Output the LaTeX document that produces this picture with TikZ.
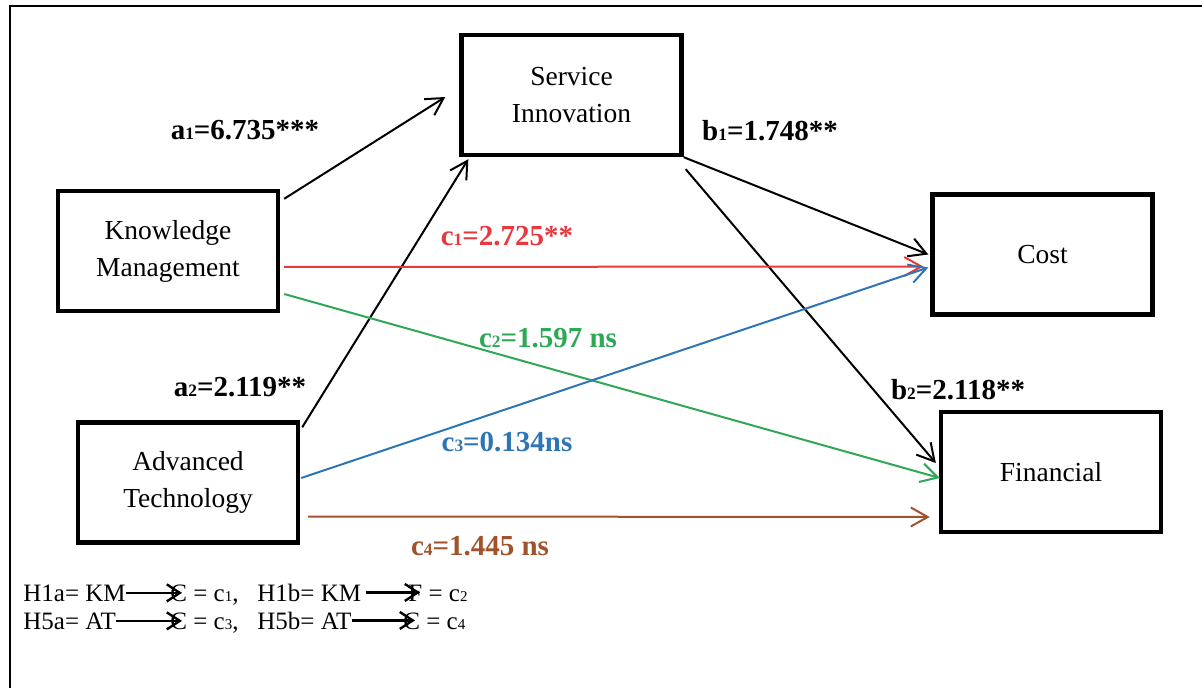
\documentclass[tikz,border=0pt]{standalone}
\usepackage{fontspec}
\setmainfont{Liberation Serif}
\usetikzlibrary{arrows.meta}
\definecolor{pathred}{RGB}{232,56,61}
\definecolor{pathgreen}{RGB}{46,168,87}
\definecolor{pathblue}{RGB}{46,117,182}
\definecolor{pathbrown}{RGB}{160,82,45}
\newcommand{\lsub}[1]{\scalebox{0.6}{#1}}
\tikzset{
  var/.style={draw,line width=2.2pt,minimum width=110pt,minimum height=60pt,align=center,
    font=\fontsize{13.75}{18.5}\selectfont},
  coef/.style={font=\fontsize{14.5}{16}\selectfont\bfseries},
  link/.style={-{Straight Barb[length=8.5pt,width=9.5pt]},line width=1pt},
  legtxt/.style={anchor=base west,inner sep=0pt,font=\fontsize{12.5}{14}\selectfont},
  legarr/.style={-{Straight Barb[length=6.5pt,width=8.5pt]},line width=1.2pt,shorten >=-6pt},
}
\begin{document}
\begin{tikzpicture}[x=0.5pt,y=-0.5pt]
	\useasboundingbox (0,0) rectangle (1202,688);
	\draw[line width=1pt] (10,720) -- (10,6) -- (1230,6);
	% variables
	\node[var] (si) at (571.5,95) {Service\\Innovation};
	\node[var] (km) at (168,251) {Knowledge\\Management};
	\node[var] (at) at (188,482.5) {Advanced\\Technology};
	\node[var] (cost) at (1042.5,254.5) {Cost};
	\node[var] (fin) at (1051,472) {Financial};
	% paths
	\draw[link] ([shift={(2pt,-5pt)}]km.north east) -- ([shift={(-7pt,-1pt)}]si.west);
	\draw[link] ([shift={(1pt,-3.5pt)}]at.north east) -- ([shift={(4.5pt,-1pt)}]si.south west);
	\draw[link] (si.south east) -- ([shift={(-1pt,0pt)}]cost.west);
	\draw[link] ([shift={(1pt,-6pt)}]si.south east) -- ([shift={(-1.5pt,4.5pt)}]fin.west);
	\draw[link,pathred] ([shift={(2pt,-8pt)}]km.east) -- ([shift={(-3.5pt,-6pt)}]cost.west);
	\draw[link,pathgreen] ([shift={(2pt,-21.5pt)}]km.east) -- ([shift={(0.5pt,-3pt)}]fin.west);
	\draw[link,pathblue] ([shift={(0.5pt,2.25pt)}]at.east) -- ([shift={(-1pt,-6.5pt)}]cost.west);
	\draw[link,pathbrown] ([shift={(4pt,-17pt)}]at.east) -- ([shift={(-4.5pt,-22.5pt)}]fin.west);
	% coefficients
	\node[coef] (a1) at (245,130) {a\lsub{1}=6.735***};
	\node[coef] (b1) at (770,131) {b\lsub{1}=1.748**};
	\node[coef,pathred] (c1) at (507,236) {c\lsub{1}=2.725**};
	\node[coef,pathgreen] (c2) at (548,338) {c\lsub{2}=1.597 ns};
	\node[coef] (a2) at (240,387) {a\lsub{2}=2.119**};
	\node[coef] (b2) at (958,390) {b\lsub{2}=2.118**};
	\node[coef,pathblue] (c3) at (507,442) {c\lsub{3}=0.134ns};
	\node[coef,pathbrown] (c4) at (480,546) {c\lsub{4}=1.445 ns};
	% hypotheses
	\node[legtxt] (h1a) at (23,601) {H1a= KM};
	\node[legtxt] (h1ac) at (170,601) {C = c\lsub{1},};
	\node[legtxt] (h1b) at (257,601) {H1b= KM};
	\node[legtxt] (h1bf) at (408,601) {F = c\lsub{2}};
	\node[legtxt] (h5a) at (23,629) {H5a= AT};
	\node[legtxt] (h5ac) at (170,629) {C = c\lsub{3},};
	\node[legtxt] (h5b) at (257,629) {H5b= AT};
	\node[legtxt] (h5bc) at (403,629) {C = c\lsub{4}};
	\draw[legarr] (h1a.east) -- (h1a.east -| h1ac.west);
	\draw[legarr,shorten <=2.5pt] (h1b.east) -- (h1b.east -| h1bf.west);
	\draw[legarr] (h5a.east) -- (h5a.east -| h5ac.west);
	\draw[legarr] (h5b.east) -- (h5b.east -| h5bc.west);
\end{tikzpicture}
\end{document}
